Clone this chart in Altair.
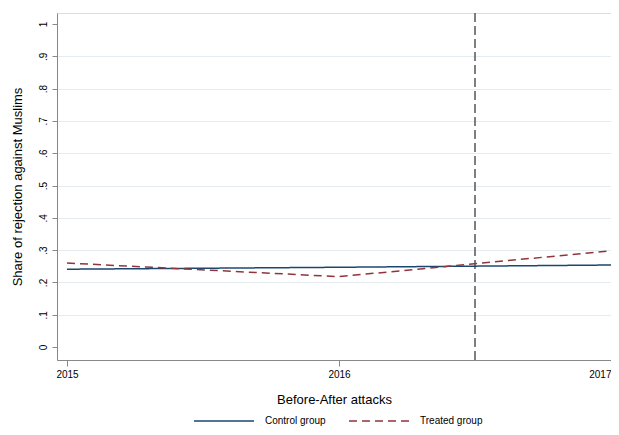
import altair as alt
import pandas as pd

years = [2015, 2016, 2017]
control = [0.241, 0.247, 0.254]
treated = [0.260, 0.218, 0.298]
groups = ["Control group", "Treated group"]
event_x = [2016.5]
y_ticks = [0, 0.1, 0.2, 0.3, 0.4, 0.5, 0.6, 0.7, 0.8, 0.9, 1]

rows = []
for y, c, t in zip(years, control, treated):
    rows.append({"year": y, "value": c, "group": groups[0]})
    rows.append({"year": y, "value": t, "group": groups[1]})
df = pd.DataFrame(rows)
ev = pd.DataFrame({"x": event_x})

FONT = "Liberation Sans"
xscale = alt.Scale(domain=[2014.9632, 2017.0], nice=False, zero=False)
yscale = alt.Scale(domain=[-0.04, 1.034], nice=False, zero=False)

xaxis = alt.Axis(values=years, tickCount=10, tickMinStep=0.1,
                 labelExpr="format(datum.value, 'd')", title="Before-After attacks",
                 grid=False, labelFontSize=10, titleFontSize=13,
                 titleFontWeight="normal", titlePadding=14,
                 labelPadding=3, tickSize=6, labelOverlap=False,
                 labelAlign={"condition": {"test": "datum.value == 2017", "value": "right"}, "value": "center"})

leg = dict(title=None, orient="none", direction="horizontal",
           legendX=136, legendY=377, symbolType="stroke",
           symbolSize=3600, symbolStrokeWidth=1.5,
           labelFontSize=10, labelOffset=10, columnPadding=20,
           labelFont=FONT, labelColor="#000000")

lines = alt.Chart(df).mark_line(strokeWidth=1.5, clip=False).encode(
    x=alt.X("year:Q", scale=xscale, axis=xaxis),
    y=alt.Y("value:Q", scale=yscale,
            axis=alt.Axis(values=y_ticks, tickCount=20, tickMinStep=0.01,
                          title="Share of rejection against Muslims",
                          labelExpr="datum.value == 0 ? '0' : datum.value == 1 ? '1' : replace(format(datum.value, '.1f'), '0.', '.')",
                          labelAngle=270, labelAlign="center", labelBaseline="bottom",
                          labelFontSize=10, titleFontSize=13, titleFontWeight="normal",
                          titlePadding=14, labelPadding=4, tickSize=5, labelOverlap=False,
                          grid=True, gridColor="#e4ecef", gridWidth=1,
                          gridOpacity={"condition": {"test": "datum.value == 0 || datum.value == 1", "value": 0}, "value": 1})),
    color=alt.Color("group:N", scale=alt.Scale(domain=groups, range=["#1a476f", "#90353b"]),
                    legend=alt.Legend(**leg)),
    strokeDash=alt.StrokeDash("group:N", scale=alt.Scale(domain=groups, range=[[1, 0], [8, 5]]),
                              legend=alt.Legend(**leg)),
)

vline = alt.Chart(ev).mark_rule(color="#555555", strokeDash=[9, 4], strokeWidth=1.5).encode(
    x=alt.X("x:Q", scale=xscale, axis=xaxis)
)

chart = alt.layer(vline, lines).properties(
    width=554, height=347,
    autosize=alt.AutoSizeParams(type="none"),
    padding={"left": 49, "top": 5, "right": 0, "bottom": 67},
).configure_view(stroke=None).configure_axis(
    domainColor="#000000", tickColor="#000000", labelColor="#000000",
    titleColor="#000000", labelFont=FONT, titleFont=FONT, domainWidth=1
).configure(background="white")

chart.save("out.html", embed_options={"renderer": "svg", "actions": False})
